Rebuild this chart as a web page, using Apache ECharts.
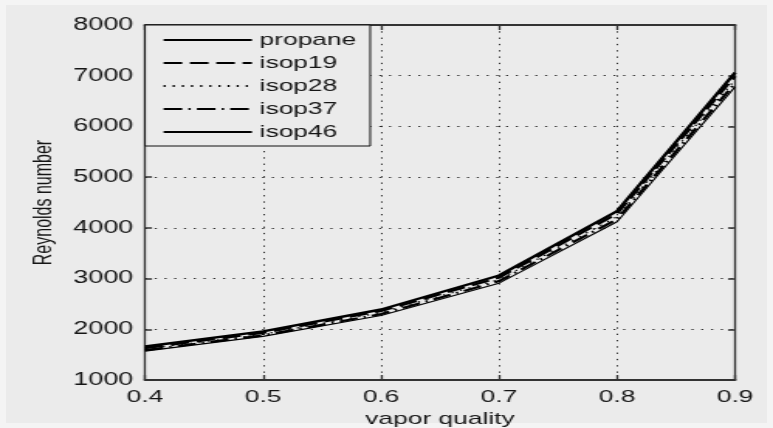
<!DOCTYPE html>
<html>
<head>
<meta charset="utf-8">
<script src="https://cdn.jsdelivr.net/npm/echarts@6/dist/echarts.min.js"></script>
<style>
  html, body { margin: 0; padding: 0; background: #f4f4f4; overflow: hidden; }
  #frame { position: absolute; left: 6px; top: 5px; width: 761px; height: 418px; background: #ebebeb; }
  /* the figure is drawn narrow and widened, giving its broad lettering */
  #chart { position: absolute; left: 0; top: 0; width: 499px; height: 428px;
           transform: scaleX(1.5491); transform-origin: 0 0; }
</style>
</head>
<body>
<div id="frame"></div>
<div id="chart"></div>
<script>
// vapor quality samples
var quality = [0.4, 0.5, 0.6, 0.7, 0.8, 0.9];

// Reynolds number per fluid
var propane = [1660, 1960, 2390, 3060, 4330, 7060];
var isop19  = [1630, 1930, 2360, 3020, 4280, 6990];
var isop28  = [1610, 1900, 2330, 2980, 4220, 6920];
var isop37  = [1590, 1880, 2300, 2950, 4170, 6850];
var isop46  = [1570, 1860, 2270, 2910, 4120, 6780];

var seriesNames = ['propane', 'isop19', 'isop28', 'isop37', 'isop46'];
var seriesValues = [propane, isop19, isop28, isop37, isop46];

var lineStyles = [
  { width: 2.4, type: 'solid' },
  { width: 2.2, type: [12, 5] },
  { width: 1.3, type: [1.3, 4.6] },
  { width: 2.2, type: [12, 4, 1.5, 4] },
  { width: 1.1, type: 'solid' }
];

var FONT = 'Liberation Sans, Arial, sans-serif';
var INK = '#151515';

function pairs(vals) {
  return vals.map(function (v, i) { return [quality[i], v]; });
}

var chart = echarts.init(document.getElementById('chart'), null, { renderer: 'canvas' });

var gridLine = { show: true, lineStyle: { color: '#2a2a2a', width: 1, type: [1.3, 5] } };
var xLine = { show: true, onZero: false, lineStyle: { color: '#333', width: 2 } };
var yLine = { show: true, onZero: false, lineStyle: { color: '#333', width: 1.3 } };

chart.setOption({
  animation: false,
  backgroundColor: 'transparent',
  grid: { left: 93.6, right: 24.5, top: 25, bottom: 48, containLabel: false, outerBoundsMode: 'none' },
  legend: {
    left: 93.6, top: 25,
    orient: 'vertical',
    data: seriesNames,
    backgroundColor: '#ebebeb',
    borderColor: '#111', borderWidth: 1,
    padding: [6.5, 9, 5.5, 11],
    itemGap: 6,
    itemWidth: 57, itemHeight: 14,
    itemStyle: { opacity: 0 },
    textStyle: { fontFamily: FONT, fontSize: 17, color: INK, padding: [0, 0, 0, 0] },
    selectedMode: false
  },
  xAxis: [
    {
      type: 'value', position: 'bottom',
      min: 0.4, max: 0.9, interval: 0.1,
      name: 'vapor quality', nameLocation: 'middle', nameGap: 23,
      nameTextStyle: { fontFamily: FONT, fontSize: 17, color: INK },
      axisLine: xLine,
      axisTick: { show: true, inside: true, length: 5, lineStyle: { color: '#333', width: 1.3 } },
      axisLabel: { fontFamily: FONT, fontSize: 17, color: INK, margin: 9,
                   formatter: function (v) { return v.toFixed(1); } },
      splitLine: gridLine
    },
    {
      type: 'value', position: 'top',
      min: 0.4, max: 0.9, interval: 0.1,
      axisLine: xLine,
      axisTick: { show: true, inside: true, length: 5, lineStyle: { color: '#333', width: 1.3 } },
      axisLabel: { show: false },
      splitLine: { show: false }
    }
  ],
  yAxis: [
    {
      type: 'value', position: 'left',
      min: 1000, max: 8000, interval: 1000,
      name: 'Reynolds number', nameLocation: 'middle', nameGap: 54, nameRotate: 90,
      nameTextStyle: { fontFamily: FONT, fontSize: 16, color: INK },
      axisLine: yLine,
      axisTick: { show: true, inside: true, length: 4.5, lineStyle: { color: '#333', width: 1.5 } },
      axisLabel: { fontFamily: FONT, fontSize: 17.5, color: INK, margin: 7.5,
                   formatter: function (v) { return String(v); } },
      splitLine: gridLine
    },
    {
      type: 'value', position: 'right',
      min: 1000, max: 8000, interval: 1000,
      axisLine: yLine,
      axisTick: { show: true, inside: true, length: 4.5, lineStyle: { color: '#333', width: 1.5 } },
      axisLabel: { show: false },
      splitLine: { show: false }
    }
  ],
  series: seriesNames.map(function (name, i) {
    return {
      name: name,
      type: 'line',
      xAxisIndex: 0, yAxisIndex: 0,
      data: pairs(seriesValues[i]),
      symbol: 'none',
      color: '#000',
      lineStyle: { color: '#000', width: lineStyles[i].width, type: lineStyles[i].type },
      emphasis: { disabled: true },
      z: 3
    };
  })
});
</script>
</body>
</html>
